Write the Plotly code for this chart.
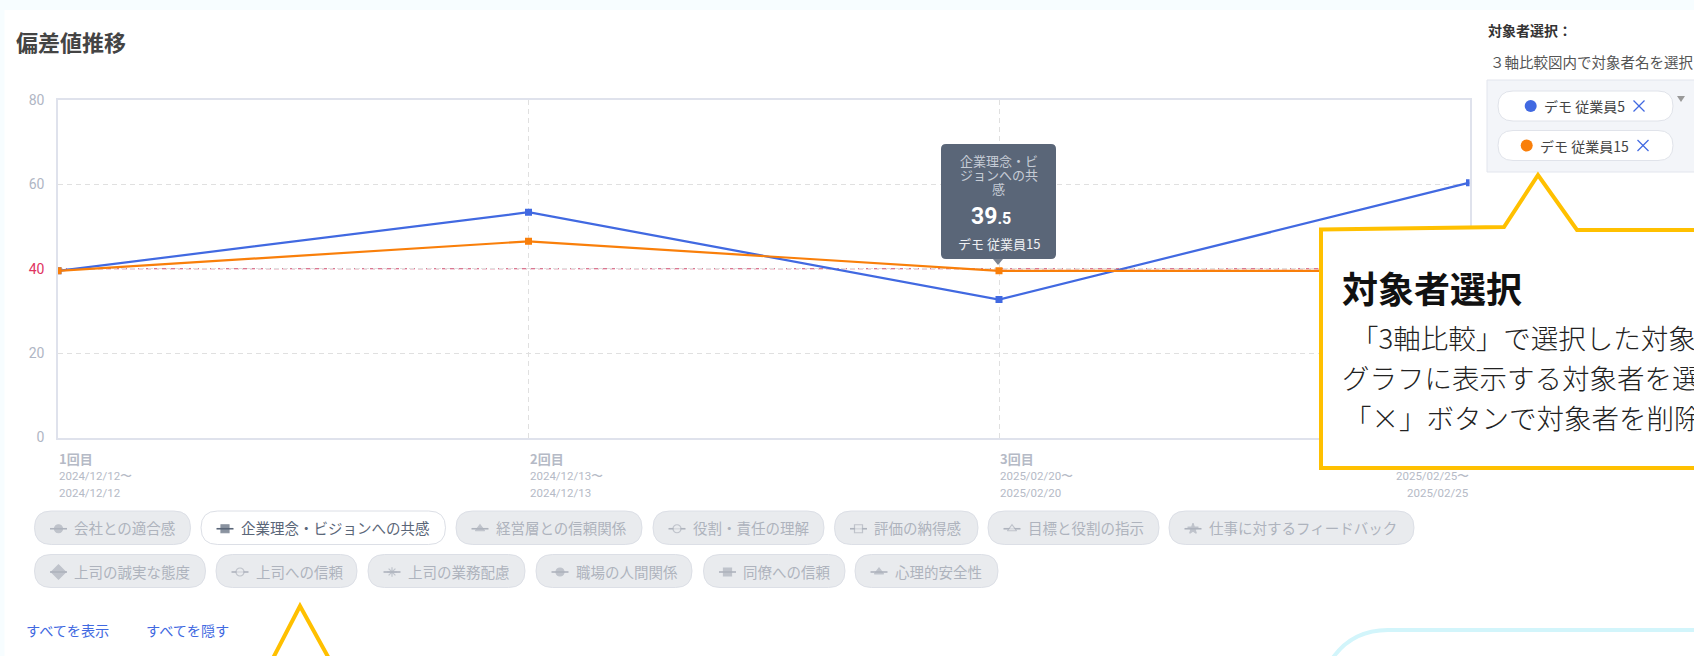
import plotly.graph_objects as go

# ---- chart data ----
rounds = ["1回目", "2回目", "3回目", "4回目"]
start_dates = ["2024/12/12〜", "2024/12/13〜", "2025/02/20〜", "2025/02/25〜"]
end_dates = ["2024/12/12", "2024/12/13", "2025/02/20", "2025/02/25"]
employee5 = [39.5, 53.4, 32.7, 60.4]
employee15 = [39.5, 46.5, 39.5, 39.5]
name5 = "デモ 従業員5"
name15 = "デモ 従業員15"
y_ticks = [0, 20, 40, 60, 80]
reference_value = 40
row1_labels = ["会社との適合感", "企業理念・ビジョンへの共感", "経営層との信頼関係", "役割・責任の理解",
               "評価の納得感", "目標と役割の指示", "仕事に対するフィードバック"]
row2_labels = ["上司の誠実な態度", "上司への信頼", "上司の業務配慮", "職場の人間関係", "同僚への信頼", "心理的安全性"]

# ---- layout of the page furniture (pixels) ----
W, H = 1694, 656
PL, PR, PT, PB = 58, 1469.5, 100, 437.5
FONT = "Noto Sans CJK JP"
BLUE, ORANGE, YELLOW = "#4169e1", "#f97f0a", "#ffc000"
row1_x = [(34.5, 190.5), (201, 445.5), (456, 642), (653, 824), (834.5, 978), (988, 1159), (1169, 1414)]
row2_x = [(34.5, 205.5), (216, 357), (368, 525), (536, 692), (703.5, 845), (855, 998)]
row1_sym = ["circle", "square", "triangle-up", "circle", "square", "triangle-up", "star"]
row1_open = [False, False, False, True, True, True, False]
row2_sym = ["diamond", "circle", "asterisk-open", "circle", "square", "triangle-up"]
row2_open = [False, True, False, False, False, False]

shapes, annos = [], []


def S(**k):
    k.setdefault("xref", "x2")
    k.setdefault("yref", "y2")
    shapes.append(k)


def T(x, y, text, size=13, color="#444", anchor="left", xref="x2", family=FONT, weight=None):
    f = dict(size=size, color=color, family=family)
    if weight:
        f["weight"] = weight
    annos.append(dict(x=x, y=y, xref=xref, yref="y2", text=text, showarrow=False, xanchor=anchor,
                      yanchor="middle", align=anchor, borderpad=0, font=f))


def rr(x0, y0, x1, y1, r):
    return (f"M{x0+r},{y0} L{x1-r},{y0} Q{x1},{y0} {x1},{y0+r} L{x1},{y1-r} Q{x1},{y1} {x1-r},{y1} "
            f"L{x0+r},{y1} Q{x0},{y1} {x0},{y1-r} L{x0},{y0+r} Q{x0},{y0} {x0+r},{y0} Z")


# page background bands
S(type="rect", x0=0, x1=W, y0=0, y1=10, fillcolor="#f7fdff", line_width=0, layer="below")
S(type="rect", x0=0, x1=4.5, y0=0, y1=H, fillcolor="#f7fdff", line_width=0, layer="below")

# reference line at 40
shapes.append(dict(type="line", xref="x", yref="y", x0=0, x1=3, y0=reference_value, y1=reference_value,
                   line=dict(color="#cf4a6e", width=1, dash="5px,3px"), layer="below"))

# title and selector
T(14.5, 41, "<b>偏差値推移</b>", 22, "#444")
T(1487, 30, "<b>対象者選択：</b>", 14, "#333")
T(1489, 61, "３軸比較図内で対象者名を選択", 14.5, "#555")
S(type="rect", x0=1487, x1=1700, y0=80, y1=172, fillcolor="#f3f5f9", line=dict(color="#e2e5ed", width=1), layer="below")
for y0, y1, dot, col, name, tx, cx in [(91, 121, 1530.7, BLUE, name5, 1543, 1639),
                                       (130.5, 160.5, 1526.7, ORANGE, name15, 1539, 1643)]:
    S(type="path", path=rr(1498, y0, 1673, y1, 15), fillcolor="#ffffff", line=dict(color="#e0e3ea", width=1), layer="below")
    m = (y0 + y1) / 2
    S(type="circle", x0=dot - 6, x1=dot + 6, y0=m - 6, y1=m + 6, fillcolor=col, line_width=0, layer="below")
    T(tx, m, name, 14, "#444")
    S(type="line", x0=cx - 5.5, x1=cx + 5.5, y0=m - 5.5, y1=m + 5.5, line=dict(color=BLUE, width=1.2), layer="below")
    S(type="line", x0=cx - 5.5, x1=cx + 5.5, y0=m + 5.5, y1=m - 5.5, line=dict(color=BLUE, width=1.2), layer="below")
S(type="path", path="M1677,96 L1685,96 L1681,102 Z", fillcolor="#999", line_width=0, layer="below")

# x axis labels, left aligned on each round (the last is right aligned; its name sits behind the callout)
for i, r in enumerate(rounds):
    a = "right" if i == 3 else "left"
    if i < 3:
        T(r, 458, f"<b>{r}</b>", 13, "#b5bac6", a, "x")
    T(r, 476, start_dates[i], 11.5, "#b5bac6", a, "x", "Roboto")
    T(r, 493, end_dates[i], 11.5, "#b5bac6", a, "x", "Roboto")

# pills
ix, iy, isym, ifill, iline, isize = [], [], [], [], [], []
for labels, xs, syms, opens, (y0, y1) in [(row1_labels, row1_x, row1_sym, row1_open, (511, 544.5)),
                                          (row2_labels, row2_x, row2_sym, row2_open, (554.5, 587.5))]:
    for lab, (x0, x1), sym, op in zip(labels, xs, syms, opens):
        active = lab == "企業理念・ビジョンへの共感"
        bg = "#ffffff" if active else "#e9ebee"
        fg = "#5a6678" if active else "#aeb3bd"
        S(type="path", path=rr(x0, y0, x1, y1, (y1 - y0) / 2), fillcolor=bg,
          line=dict(color="#dcdfe6", width=1), layer="below")
        m = (y0 + y1) / 2
        cx = x0 + 24
        S(type="line", x0=cx - 8.5, x1=cx + 8.5, y0=m + 1, y1=m + 1, line=dict(color=fg, width=1.6), layer="below")
        ix.append(cx); iy.append(m + 1); isym.append(sym)
        ifill.append(bg if op else fg); iline.append(fg)
        isize.append(11 if sym == "diamond" else 8)
        T(x0 + 38.5, m, lab, 14.5, fg)

T(25, 630, "すべてを表示", 14.2, BLUE)
T(145, 630, "すべてを隠す", 14.2, BLUE)

# cyan panel at the bottom right
S(type="path", path="M1330,662 Q1350,630 1388,630 L1700,630", fillcolor="rgba(0,0,0,0)",
  line=dict(color="#d2f5fb", width=4), layer="below")

# tooltip
S(type="path", path=rr(941, 144, 1056, 259, 5), fillcolor="#5a6678", line_width=0, layer="above")
S(type="path", path="M993,259 L1003,259 L998,265 Z", fillcolor="#7a8290", line_width=0, layer="above")
for yy, t in zip([160, 174, 188], ["企業理念・ビ", "ジョンへの共", "感"]):
    T(998.5, yy, t, 13, "#c6ccd6", "center")
T(991, 216, '<b>39</b><span style="font-size:16px"><b>.5</b></span>', 23, "#ffffff", "center", family="Roboto")
T(998.5, 243, name15, 13, "#eef0f3", "center")

# callouts
S(type="path", path="M1321,229.5 L1504,227 L1538,175 L1577,230 L1710,230 L1710,468 L1321,468 Z",
  fillcolor="#ffffff", line=dict(color=YELLOW, width=4), layer="above")
S(type="path", path="M270,664 L300,606 L332,664 Z", fillcolor="#ffffff", line=dict(color=YELLOW, width=4), layer="above")
T(1341, 287, "<b>対象者選択</b>", 36, "#111")
T(1350, 337, "「3軸比較」で選択した対象", 27.5, "#222", weight=300)
T(1341, 377, "グラフに表示する対象者を選", 27.5, "#222", weight=300)
T(1343, 417, "「×」ボタンで対象者を削除", 27.5, "#222", weight=300)

tick_text = [f'<span style="color:#e0335f">{v}</span>' if v == reference_value else str(v) for v in y_ticks]

fig = go.Figure()
for name, vals, col in [(name5, employee5, BLUE), (name15, employee15, ORANGE)]:
    fig.add_trace(go.Scatter(x=rounds, y=vals, name=name, mode="lines+markers", xaxis="x", yaxis="y",
                             line=dict(color=col, width=2.2), marker=dict(symbol="square", size=7, color=col)))
# legend-pill glyphs live on a page-sized second axis pair
fig.add_trace(go.Scatter(x=ix, y=iy, xaxis="x2", yaxis="y2", mode="markers", hoverinfo="skip",
                         marker=dict(symbol=isym, size=isize, color=ifill, line=dict(color=iline, width=1.2))))

fig.update_layout(
    width=W, height=H, margin=dict(l=0, r=0, t=0, b=0, pad=0), autosize=False,
    paper_bgcolor="#ffffff", plot_bgcolor="rgba(0,0,0,0)", showlegend=False,
    font=dict(family=FONT),
    xaxis=dict(type="category", categoryorder="array", categoryarray=rounds, range=[0, 3], automargin=False,
               domain=[PL / W, PR / W], showticklabels=False, ticks="",
               showgrid=True, gridcolor="#e0e0e0", griddash="5px,4px", gridwidth=1,
               showline=True, mirror=True, linecolor="#dfe2ec", linewidth=1.5, zeroline=False, anchor="y"),
    yaxis=dict(range=[0, 80], domain=[1 - PB / H, 1 - PT / H], tickvals=y_ticks, ticktext=tick_text, automargin=False,
               tickfont=dict(size=14, color="#b0b6c4", family="Roboto"), ticks="", ticklabelstandoff=9,
               showgrid=True, gridcolor="#e0e0e0", griddash="5px,4px", gridwidth=1,
               showline=True, mirror=True, linecolor="#dfe2ec", linewidth=1.5, zeroline=False, anchor="x"),
    xaxis2=dict(range=[0, W], domain=[0, 1], visible=False, anchor="y2", fixedrange=True, automargin=False),
    yaxis2=dict(range=[H, 0], domain=[0, 1], visible=False, anchor="x2", fixedrange=True, automargin=False),
    shapes=shapes, annotations=annos,
)
fig.write_html("out.html", config=dict(displayModeBar=False),
               post_script="document.body.style.margin='0';document.body.style.overflow='hidden';")
